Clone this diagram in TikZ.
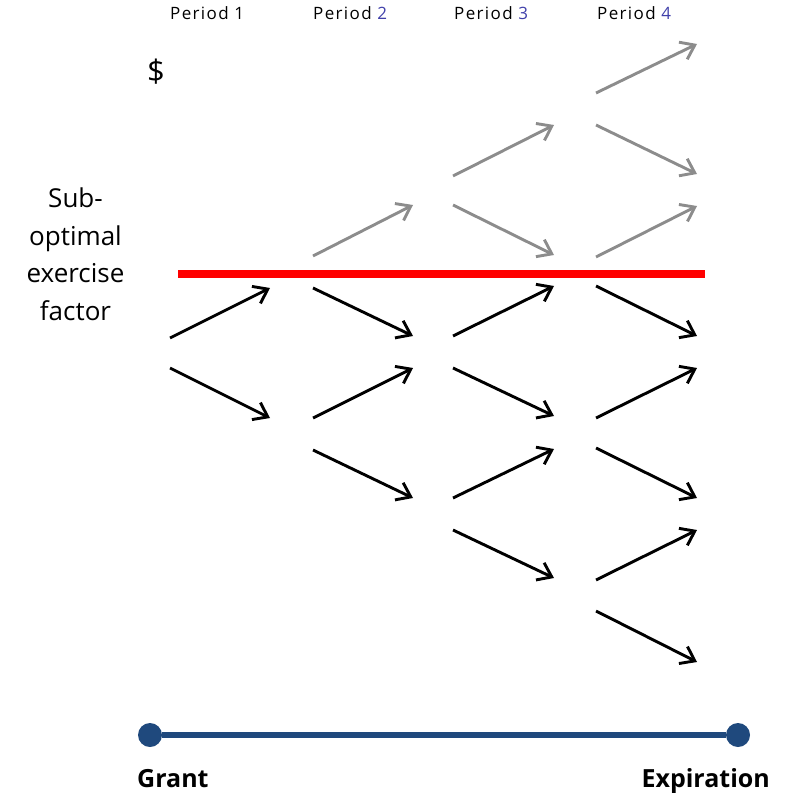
\documentclass[tikz,border=0pt]{standalone}
\usepackage{fontspec}
\setmainfont{Open Sans}
\newfontfamily\hdrfont[LetterSpace=8]{Open Sans}
\usetikzlibrary{arrows.meta}
\definecolor{digitblue}{RGB}{64,64,170}
\definecolor{arrgray}{RGB}{140,140,140}
\definecolor{axisblue}{RGB}{31,73,125}
\definecolor{exred}{RGB}{255,0,0}
\tikzset{
  arrbase/.style={line width=2.9pt, -{Straight Barb[length=13pt,width=19pt]}},
  blk/.style={arrbase, draw=black},
  gry/.style={arrbase, draw=arrgray},
  hdr/.style={anchor=base west, inner sep=0pt, font=\hdrfont\fontsize{17}{19}\selectfont},
  lbl/.style={inner sep=0pt, font=\fontsize{26}{37.5}\selectfont},
  endlbl/.style={inner sep=0pt, font=\bfseries\fontsize{25}{30}\selectfont},
}
\begin{document}
\begin{tikzpicture}[x=1pt,y=-1pt]
\useasboundingbox (0,0) rectangle (788,794);
% headers
\node[hdr] (h1) at (170,20) {Period 1};
\node[hdr] (h2) at (313,20) {Period \textcolor{digitblue}{2}};
\node[hdr] (h3) at (454,20) {Period \textcolor{digitblue}{3}};
\node[hdr] (h4) at (597,20) {Period \textcolor{digitblue}{4}};
% dollar
\node[inner sep=0pt, font=\fontsize{31}{36}\selectfont] (dollar) at (156,72) {\$};
% label
\node[lbl, align=center, anchor=base] (sub) at (75.5,320) {Sub-\\optimal\\exercise\\factor};
% red line
\coordinate (r1) at (178,274);
\coordinate (r2) at (705,274);
\draw[exred, line width=8pt] (r1) -- (r2);
% arrows
\foreach \n/\xs/\ys/\xe/\ye/\c in {
  a/170/338/270/288/blk, b/170/368/270/418/blk,
  c/313/256/413/205/gry, d/313/288/413/336/blk, e/313/418/413/368/blk, f/313/450/413/498/blk,
  g/453/176/554/125/gry, h/453/205/554/255/gry, i/453/336/554/286/blk, j/453/368/554/416/blk,
  k/453/498/554/449/blk, l/453/530/554/578/blk,
  m/596/93/697/44/gry, n/596/125/697/174/gry, o/596/257/697/206/gry, p/596/286/697/336/blk,
  q/596/418/697/368/blk, r/596/448/697/498/blk, s/596/580/697/530/blk, t/596/611/697/662/blk}{
  \coordinate (s\n) at (\xs,\ys);
  \coordinate (e\n) at (\xe,\ye);
  \draw[\c] (s\n) -- (e\n);
}
% time axis
\node[circle, fill=axisblue, minimum size=24pt, inner sep=0pt] (grant) at (150,735) {};
\node[circle, fill=axisblue, minimum size=24pt, inner sep=0pt] (expir) at (738,735) {};
\draw[axisblue, line width=6pt] (grant) -- (expir);
\node[endlbl, anchor=base west] (tg) at (137,787) {Grant};
\node[endlbl, anchor=base east] (te) at (770,787) {Expiration};
\end{tikzpicture}
\end{document}
